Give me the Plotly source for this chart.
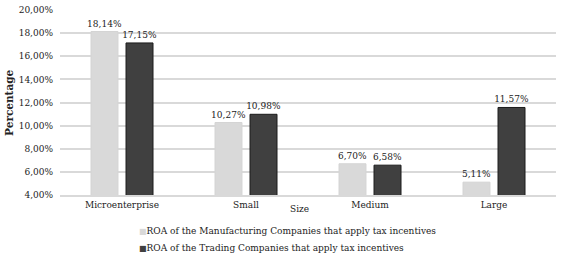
import plotly.graph_objects as go

categories = ["Microenterprise", "Small", "Medium", "Large"]
manufacturing = [18.14, 10.27, 6.70, 5.11]
trading = [17.15, 10.98, 6.58, 11.57]
series_names = [
    "ROA of the Manufacturing Companies that apply tax incentives",
    "ROA of the Trading Companies that apply tax incentives",
]
series_colors = ["#d9d9d9", "#404040"]
y_ticks = [4, 6, 8, 10, 12, 14, 16, 18, 20]
y_ticktext = [f"{v:.2f}".replace(".", ",") + "%" for v in y_ticks]

FONT = "DejaVu Serif"

fig = go.Figure()
edge_colors = ["#d4d4d4", "#1a1a1a"]
for vals, name, col, edge in zip([manufacturing, trading], series_names, series_colors, edge_colors):
    fig.add_trace(go.Bar(
        x=categories, y=vals, name=name,
        marker=dict(color=col, line=dict(color=edge, width=1)),
        text=[f"{v:.2f}".replace(".", ",") + "%" for v in vals],
        textposition="outside", constraintext="none",
        textfont=dict(size=9, color="#222", family=FONT), cliponaxis=False,
        showlegend=False, hoverinfo="skip",
    ))

annotations = [
    dict(
        text="Size", xref="paper", yref="paper", x=0.482, y=-0.078,
        xanchor="center", yanchor="middle", showarrow=False,
        font=dict(size=9, family=FONT, color="#222"),
    ),
    dict(
        text="<b>Percentage</b>", xref="paper", yref="paper", x=-0.104, y=0.5,
        xanchor="center", yanchor="middle", textangle=-90, showarrow=False,
        font=dict(size=10.5, family=FONT, color="#222"),
    ),
]
for i, (name, col) in enumerate(zip(series_names, series_colors)):
    annotations.append(dict(
        text=f"<span style='color:{col};font-size:8px'>■</span>{name}",
        xref="paper", yref="paper", x=0.156, y=-0.195 - i * 0.092,
        xanchor="left", yanchor="middle", showarrow=False,
        font=dict(size=9, family=FONT, color="#222"),
    ))

fig.update_layout(
    width=579, height=268,
    margin=dict(l=60, r=23, t=10, b=73),
    paper_bgcolor="white", plot_bgcolor="white",
    font=dict(family=FONT, size=9, color="#222"),
    barmode="group", bargap=0.435, bargroupgap=0.23,
    showlegend=False,
    yaxis=dict(
        range=[4, 20], tickvals=y_ticks, ticktext=y_ticktext,
        showgrid=True, gridcolor="#d9d9d9", gridwidth=1.5,
        zeroline=False, showline=False, ticks="", automargin=False,
        tickfont=dict(size=9), ticklabelstandoff=6,
    ),
    xaxis=dict(
        showline=True, linecolor="#d9d9d9", linewidth=1.5, ticks="",
        tickfont=dict(size=9), automargin=False,
    ),
    annotations=annotations,
)

fig.write_html("out.html", config={"displayModeBar": False},
               post_script="document.body.style.margin='0px';")
